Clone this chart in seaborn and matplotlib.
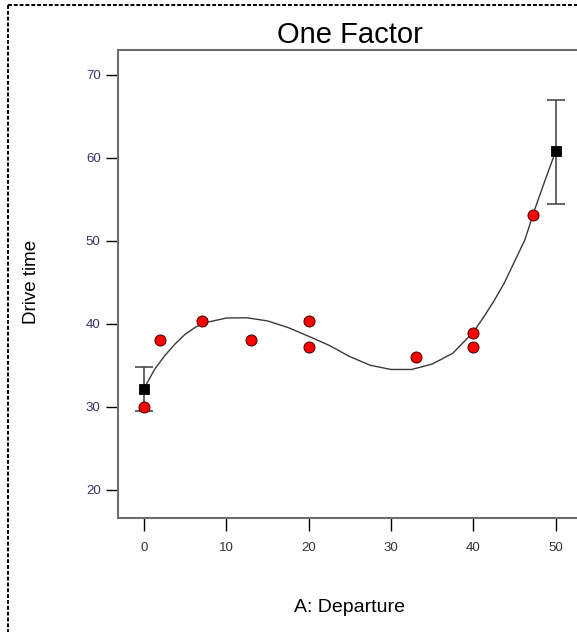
import numpy as np
import pandas as pd
import matplotlib
matplotlib.use("Agg")
import matplotlib.pyplot as plt
import seaborn as sns
from matplotlib.lines import Line2D

# observed runs (red dots)
depart_obs = [0, 2, 7, 13, 20, 20, 33, 40, 40, 47.3]
drive_obs = [30.0, 38.1, 40.4, 38.1, 40.4, 37.25, 36.0, 38.9, 37.2, 53.1]

# predicted means at the design ends, with their intervals
mean_x = [0, 50]
mean_y = [32.2, 60.8]
mean_lo = [29.5, 54.5]
mean_hi = [34.8, 67.0]

# fitted model line
curve_x = [0, 1.25, 2.5, 3.75, 5, 6.25, 7.5, 10, 12.5, 15, 17.5, 20, 22.5, 25, 27.5,
           30, 32.5, 35, 37.5, 40, 41.25, 42.5, 43.75, 45, 46.25, 47.5, 48.75, 50]
curve_y = [32.2, 34.45, 36.15, 37.55, 38.75, 39.6, 40.15, 40.7, 40.73, 40.35, 39.55,
           38.5, 37.4, 36.05, 35.0, 34.5, 34.5, 35.15, 36.45, 39.0, 40.8,
           42.75, 44.9, 47.5, 50.1, 53.9, 57.4, 60.8]

x_ticks = [0, 10, 20, 30, 40, 50]
y_ticks = [20, 30, 40, 50, 60, 70]

sns.set_style("white")
plt.rcParams["font.family"] = ["Liberation Sans", "DejaVu Sans"]
plt.rcParams["text.color"] = "black"
plt.rcParams["axes.labelcolor"] = "black"

fig = plt.figure(figsize=(5.77, 6.32), dpi=100)
ax = fig.add_axes([118 / 577, 1 - 518 / 632, 464 / 577, 468 / 632])

curve = pd.DataFrame({"x": curve_x, "y": curve_y})
sns.lineplot(data=curve, x="x", y="y", color="#3a3a3a", lw=1.0, ax=ax)

yerr = [np.array(mean_y) - np.array(mean_lo), np.array(mean_hi) - np.array(mean_y)]
ax.errorbar(mean_x, mean_y, yerr=yerr, fmt="none", ecolor="#4a4a4a",
            elinewidth=1.2, capsize=6.8, capthick=1.2, zorder=3)
sns.scatterplot(x=mean_x, y=mean_y, marker="s", s=55, color="black",
                edgecolor="black", zorder=4, ax=ax)
sns.scatterplot(x=depart_obs, y=drive_obs, marker="o", s=62, color="#ff0000",
                edgecolor="#5a0000", linewidth=0.8, zorder=5, ax=ax)

ax.set_xlim(-3.16, 53.2)
ax.set_ylim(16.6, 73.0)
ax.set_xticks(x_ticks)
ax.set_yticks(y_ticks)
ax.tick_params(axis="both", direction="out", length=9, width=1.0,
               color="black", labelsize=9.5, bottom=True, left=True)
ax.tick_params(axis="x", pad=8.5, labelcolor="#333333")
ax.tick_params(axis="y", pad=3.5, labelcolor="#3b2f6b")

for side in ["left", "top", "bottom"]:
    ax.spines[side].set_color("#6e6e6e")
    ax.spines[side].set_linewidth(1.5)
ax.spines["right"].set_visible(False)

ax.set_title("One Factor", fontsize=21, pad=5, color="black")
ax.set_xlabel("A: Departure", fontsize=14)
ax.set_ylabel("Drive time", fontsize=13.5)
ax.xaxis.set_label_coords(0.5, -0.174)
ax.yaxis.set_label_coords(-0.168, 0.504)

# dashed frame of the original graph window
for xs, ys in [([8 / 577, 1.0], [1 - 5 / 632, 1 - 5 / 632]),
               ([8 / 577, 8 / 577], [1 - 5 / 632, 0.0])]:
    fig.add_artist(Line2D(xs, ys, transform=fig.transFigure, color="black",
                          lw=1.4, linestyle=(0, (2, 1))))

fig.savefig("out.png", dpi=100)
